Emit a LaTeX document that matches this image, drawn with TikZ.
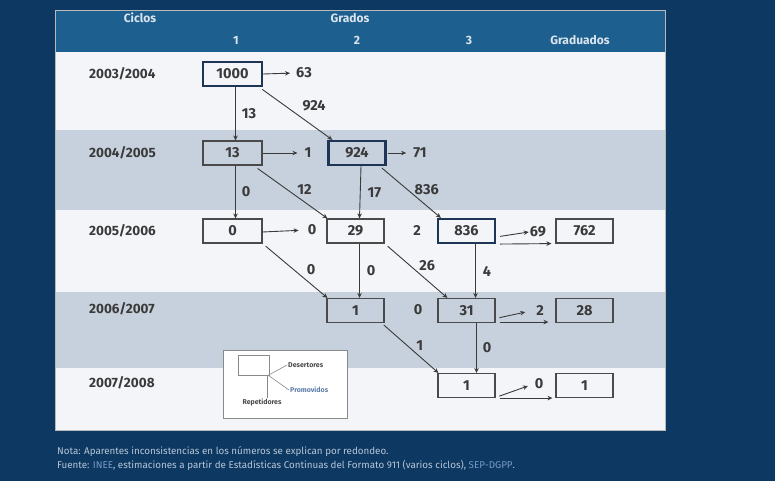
\documentclass[tikz,border=0pt]{standalone}
\usepackage{fontspec}
\setmainfont{Fira Sans}
\usetikzlibrary{arrows.meta}

\definecolor{navybg}{HTML}{0C3862}
\definecolor{headblue}{HTML}{1D5F8E}
\definecolor{rowlight}{HTML}{F3F5F9}
\definecolor{rowgray}{HTML}{C7D1DD}
\definecolor{boxline}{HTML}{4A4A4A}
\definecolor{boxnavy}{HTML}{1E3556}
\definecolor{ink}{HTML}{3A3A3A}
\definecolor{headink}{HTML}{DCE4EE}
\definecolor{noteink}{HTML}{B9C6D6}
\definecolor{linkink}{HTML}{7A9CCB}
\definecolor{keyline}{HTML}{8A8A8A}

\begin{document}
\begin{tikzpicture}[x=1pt,y=-1pt,
    cell/.style={draw=boxline,line width=1.1pt,minimum width=57pt,minimum height=24pt,
        inner sep=0pt,font=\fontsize{14.5}{16}\selectfont\bfseries,text=ink},
    keycell/.style={cell,draw=boxnavy,line width=2.2pt},
    num/.style={font=\fontsize{14.5}{16}\selectfont\bfseries,text=ink,inner sep=1pt},
    ciclo/.style={num,font=\fontsize{13.5}{15}\selectfont\bfseries,anchor=west},
    head/.style={font=\fontsize{12}{14}\selectfont\bfseries,text=headink},
    flow/.style={-{Stealth[length=5pt,width=4.5pt]},draw=ink,line width=0.9pt},
    keytext/.style={font=\fontsize{7}{8}\selectfont\bfseries,text=boxline,inner sep=1pt},
    note/.style={font=\fontsize{9.8}{11}\selectfont,text=noteink,anchor=west,inner sep=0pt}]
    % panel
    \fill[navybg] (0,0) rectangle (775,481);
    \fill[rowlight] (55,52) rectangle (665,430);
    \fill[headblue] (55,10) rectangle (665,52);
    \foreach \ya/\yb in {130/210,292/368}
        \fill[rowgray] (55,\ya) rectangle (665,\yb);
    \draw[keyline!60,line width=0.8pt] (55,10) rectangle (665,430);

    % header
    \node[head] (hcic) at (140,18) {Ciclos};
    \node[head] (hgra) at (350,18) {Grados};
    \node[head] (hg1) at (236,40) {1};
    \node[head] (hg2) at (357,40) {2};
    \node[head] (hg3) at (469,40) {3};
    \node[head] (hgrad) at (580,40) {Graduados};

    % ciclos
    \node[ciclo] (y1) at (88,74) {2003/2004};
    \node[ciclo] (y2) at (88,153) {2004/2005};
    \node[ciclo] (y3) at (88,231) {2005/2006};
    \node[ciclo] (y4) at (88,309) {2006/2007};
    \node[ciclo] (y5) at (88,383) {2007/2008};

    % cohorte
    \node[keycell,minimum width=59pt] (a1) at (232.5,74) {1000};
    \node[cell,minimum width=59pt] (b1) at (232.5,153) {13};
    \node[keycell] (b2) at (357,153) {924};
    \node[cell,minimum width=59pt] (c1) at (232.5,231) {0};
    \node[cell] (c2) at (355.5,231) {29};
    \node[keycell] (c3) at (466.5,231) {836};
    \node[cell] (c4) at (584.5,231) {762};
    \node[cell] (d2) at (355.5,310.5) {1};
    \node[cell] (d3) at (466.5,310.5) {31};
    \node[cell] (d4) at (584.5,310.5) {28};
    \node[cell] (e3) at (466.5,385.5) {1};
    \node[cell] (e4) at (584.5,385.5) {1};

    % desertores
    \node[num] (q1) at (304,73) {63};
    \node[num] (q2) at (308,153) {1};
    \node[num] (q3) at (420,153) {71};
    \node[num] (q4) at (312,230) {0};
    \node[num] (q5) at (417,230) {2};
    \node[num] (q6) at (538,232) {69};
    \node[num] (q7) at (418,310) {0};
    \node[num] (q8) at (540,310) {2};
    \node[num] (q9) at (539,384) {0};
    \draw[flow,shorten >=5pt] (a1.east) -- (q1.west);
    \draw[flow,shorten >=6pt] (b1.east) -- (q2.west);
    \draw[flow,shorten >=6pt,shorten <=1pt] (b2.east) -- (q3.west);
    \draw[flow,shorten >=8pt] ([yshift=-1pt]c1.east) -- (q4.west);
    \draw[flow,shorten <=4pt] ([yshift=-6pt]c3.east) -- (q6.west);
    \draw[flow,shorten <=4pt,shorten >=10pt] ([yshift=-8pt]d3.east) -- (q8.west);
    \draw[flow,shorten <=4pt,shorten >=6pt] ([yshift=-12pt]e3.east) -- (q9.west);

    % graduados
    \draw[flow,shorten <=4pt,shorten >=4pt] (c3.south east) -- (c4.south west);
    \draw[flow,shorten <=4pt,shorten >=7pt] ([yshift=1pt]d3.south east) -- ([yshift=1pt]d4.south west);
    \draw[flow,shorten <=4pt,shorten >=3pt] (e3.south east) -- (e4.south west);

    % repetidores y promovidos
    \draw[flow] ([xshift=3pt]a1.south) -- node[num,right=5pt] {13} ([xshift=3pt]b1.north);
    \draw[flow,shorten <=4pt] ([xshift=-4pt]a1.south east)
        -- node[num,pos=0.75,above=14pt] {924} ([xshift=5pt]b2.north west);
    \draw[flow] ([xshift=3pt]b1.south) -- node[num,right=5pt] {0} ([xshift=3pt]c1.north);
    \draw[flow,shorten <=5pt] ([xshift=-9pt]b1.south east)
        -- node[num,pos=0.69,above=6pt] {12} ([xshift=1pt]c2.north west);
    \draw[flow] ([xshift=4pt]b2.south) -- node[num,right=6pt] {17} ([xshift=4pt]c2.north);
    \draw[flow,shorten <=3pt] ([xshift=-7pt]b2.south east)
        -- node[num,pos=0.77,above=10pt] {836} ([xshift=4pt]c3.north west);
    \draw[flow,shorten <=4pt] (c1.south east)
        -- node[num,pos=0.75,above=8pt] {0} ([xshift=1pt]d2.north west);
    \draw[flow] ([xshift=4pt]c2.south) -- node[num,right=6pt] {0} ([xshift=4pt]d2.north);
    \draw[flow,shorten <=4pt] (c2.south east)
        -- node[num,pos=0.68,above=8pt] {26} ([xshift=10pt]d3.north west);
    \draw[flow] ([xshift=9pt]c3.south) -- node[num,right=6pt] {4} ([xshift=9pt]d3.north);
    \draw[flow,shorten <=3pt] ([xshift=-3pt]d2.south east)
        -- node[num,pos=0.67,above=5pt] {1} ([xshift=1pt]e3.north west);
    \draw[flow] ([xshift=10pt]d3.south) -- node[num,right=5pt] {0} ([xshift=10pt]e3.north);

    % leyenda
    \node[draw=keyline,fill=white,line width=0.8pt,minimum width=124pt,minimum height=68pt,inner sep=0pt] (key) at (285,384) {};
    \node[draw=keyline,line width=0.6pt,minimum width=31pt,minimum height=20pt,inner sep=0pt] (keybox) at (253.5,365) {};
    \node[keytext,anchor=west] (kdes) at (287,365) {Desertores};
    \node[keytext,anchor=west,text=linkink!70!boxnavy] (kpro) at (289,390) {Promovidos};
    \node[keytext,anchor=north] (krep) at (262,398) {Repetidores};
    \draw[keyline,line width=0.6pt] ([xshift=-1pt]keybox.south east) -- (kdes.west);
    \draw[keyline,line width=0.6pt] ([xshift=-1pt]keybox.south east) -- (kpro.west);
    \draw[keyline,line width=0.6pt] ([xshift=-2pt]keybox.south east) -- ([xshift=-2pt]keybox.south east |- krep.north);

    % notas
    \node[note] (nota) at (57,452) {Nota: Aparentes inconsistencias en los números se explican por redondeo.};
    \node[note] (fuente) at (57,465) {Fuente: \textcolor{linkink}{INEE}, estimaciones a partir de Estadísticas Continuas del Formato 911 (varios ciclos), \textcolor{linkink}{SEP-DGPP}.};
\end{tikzpicture}
\end{document}
